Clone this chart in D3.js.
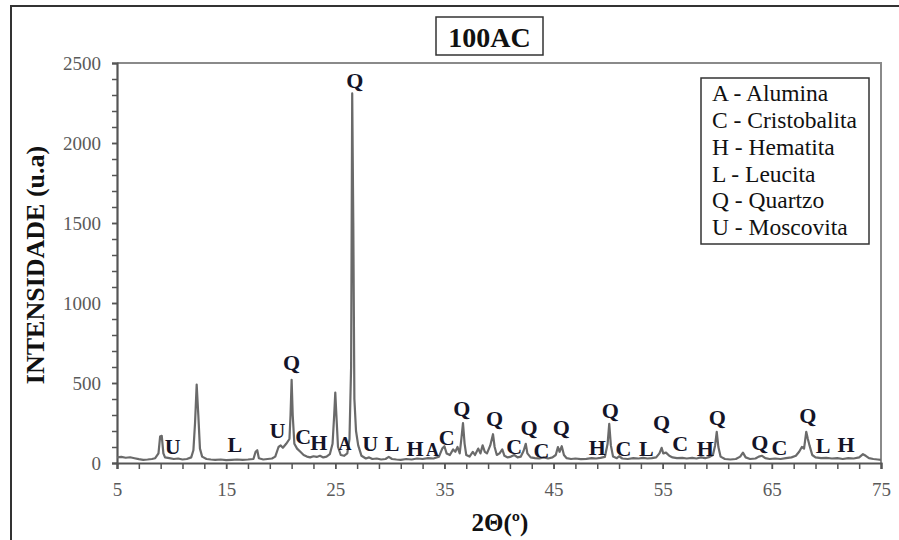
<!DOCTYPE html>
<html><head><meta charset="utf-8">
<script src="https://cdn.jsdelivr.net/npm/d3@7"></script>
<style>body{margin:0;background:#fff}svg{display:block}</style>
</head><body><div id="chart"></div>
<script>
// ---- data ----
const twoTheta = [5.0,5.4,5.8,6.2,6.6,7.0,7.4,7.8,8.2,8.5,8.8,8.95,9.1,9.25,9.4,9.8,10.2,10.6,11.0,11.4,11.8,12.0,12.15,12.3,12.45,12.6,12.8,13.2,13.6,14.0,14.5,15.0,15.5,16.0,16.5,17.0,17.5,17.7,17.85,18.0,18.4,18.8,19.2,19.5,19.8,20.0,20.2,20.5,20.8,20.9,21.0,21.1,21.25,21.5,21.8,22.1,22.4,22.7,23.0,23.3,23.6,23.9,24.2,24.5,24.75,24.9,25.0,25.1,25.25,25.5,25.8,26.1,26.3,26.45,26.55,26.65,26.75,26.9,27.1,27.4,27.8,28.1,28.4,28.8,29.2,29.6,29.9,30.2,30.6,31.0,31.5,32.0,32.5,33.0,33.5,34.0,34.5,34.8,35.0,35.2,35.5,35.8,36.0,36.2,36.4,36.55,36.7,36.85,37.0,37.3,37.6,37.8,38.1,38.3,38.5,38.7,38.9,39.2,39.45,39.6,39.8,40.05,40.3,40.5,40.8,41.1,41.4,41.7,42.0,42.25,42.45,42.6,42.9,43.3,43.7,44.1,44.5,44.9,45.2,45.4,45.55,45.75,45.95,46.2,46.6,47.0,47.5,48.0,48.5,48.9,49.3,49.7,49.95,50.1,50.25,50.45,50.8,51.0,51.3,51.8,52.3,52.8,53.2,53.6,54.0,54.4,54.7,54.9,55.05,55.3,55.6,55.9,56.3,56.8,57.2,57.7,58.1,58.5,58.9,59.3,59.6,59.8,59.95,60.1,60.3,60.7,61.2,61.7,62.1,62.35,62.6,63.0,63.5,63.8,64.1,64.4,64.8,65.3,65.8,66.3,66.8,67.2,67.5,67.75,67.95,68.15,68.3,68.45,68.7,69.0,69.5,70.0,70.5,71.0,71.5,72.0,72.5,73.0,73.35,73.6,73.9,74.3,74.7,75.0];
const intensity = [35,38,33,36,30,24,20,22,25,30,60,165,170,60,35,30,25,28,22,25,35,80,250,490,300,90,40,25,22,20,22,18,20,22,20,22,25,70,80,30,22,25,28,40,100,110,95,120,150,300,520,300,120,90,70,50,40,35,42,38,45,35,40,55,120,300,440,300,100,50,45,60,150,600,2310,1500,400,200,110,45,28,35,25,28,22,25,38,25,22,20,25,22,28,25,30,28,40,90,105,60,50,85,70,100,60,150,250,120,50,40,70,50,90,60,110,70,60,110,180,100,50,60,85,45,35,40,50,35,40,75,120,60,35,30,28,35,28,35,50,100,70,105,50,30,25,28,24,26,30,28,32,38,120,245,110,40,30,42,28,25,30,28,32,28,30,35,60,95,60,65,45,35,30,32,28,32,28,35,30,38,50,110,195,100,40,25,22,25,40,65,35,25,28,40,45,30,25,28,25,30,35,45,70,100,90,195,150,110,50,35,30,32,28,30,25,30,28,35,55,45,30,25,22,20];
const xTicks = [5,15,25,35,45,55,65,75];
const yTicks = [0,500,1000,1500,2000,2500];
const peakText = ["Q","U","L","U","Q","C","H","A","U","L","H","A","C","Q","Q","C","Q","C","Q","H","Q","C","L","Q","C","H","Q","Q","C","Q","L","H"];
const peakX    = [26.8,10.1,15.8,19.7,21.0,22.05,23.5,25.9,28.2,30.2,32.3,33.9,35.2,36.6,39.6,41.4,42.75,43.9,45.7,49.0,50.2,51.4,53.5,54.9,56.6,58.9,60.0,63.9,65.7,68.3,69.7,71.8];
const peakY    = [2394,106,119,206,631,169,131,118,125,125,94,81,162,344,281,106,225,81,225,100,331,94,94,256,125,94,288,131,100,300,112,119];
const legendItems = ["A - Alumina","C - Cristobalita","H - Hematita","L - Leucita","Q - Quartzo","U - Moscovita"];
const chartTitle = "100AC";
const xTitle = "2\u0398(\u00BA)";
const yTitle = "INTENSIDADE (u.a)";

// ---- drawing ----
const W = 899, H = 540;
const m = {left:117, top:63, right:881, bottom:463};
const serif = "'Liberation Serif','Times New Roman',serif";
const svg = d3.select("#chart").append("svg").attr("width",W).attr("height",H);

// outer frame
svg.append("rect").attr("x",11).attr("y",6).attr("width",1000).attr("height",1000)
  .attr("fill","none").attr("stroke","#333").attr("stroke-width",2);

const x = d3.scaleLinear().domain([5,75]).range([m.left,m.right]);
const y = d3.scaleLinear().domain([0,2500]).range([m.bottom,m.top]);

// plot frame (top/right)
svg.append("path").attr("d",`M${m.left},${m.top}H${m.right}V${m.bottom}`)
  .attr("fill","none").attr("stroke","#8a8a8a").attr("stroke-width",2);

// minor ticks
const xMinor = d3.range(5,75.01,2);
const yMinor = d3.range(0,2500.1,100);
const xAxisMinor = svg.append("g").attr("transform",`translate(0,${m.bottom})`)
  .call(d3.axisBottom(x).tickValues(xMinor).tickSize(6).tickFormat(""));
const yAxisMinor = svg.append("g").attr("transform",`translate(${m.left},0)`)
  .call(d3.axisLeft(y).tickValues(yMinor).tickSize(5).tickFormat(""));
[xAxisMinor,yAxisMinor].forEach(g=>{
  g.select(".domain").attr("stroke","#555").attr("stroke-width",2.2);
  g.selectAll(".tick line").attr("stroke","#555").attr("stroke-width",1.5);
});

// major labels
const xAxis = svg.append("g").attr("transform",`translate(0,${m.bottom})`)
  .call(d3.axisBottom(x).tickValues(xTicks).tickSize(6).tickPadding(14).tickFormat(d3.format("d")));
const yAxis = svg.append("g").attr("transform",`translate(${m.left},0)`)
  .call(d3.axisLeft(y).tickValues(yTicks).tickSize(5).tickPadding(11).tickFormat(d3.format("d")));
[xAxis,yAxis].forEach(g=>{
  g.select(".domain").remove();
  g.selectAll(".tick line").attr("stroke","#555").attr("stroke-width",1.5);
  g.selectAll(".tick text").attr("fill","#5a5a5a").style("font-family",serif).style("font-size","19px");
});

// spectrum
const pts = twoTheta.map((t,i)=>[t,intensity[i]]);
svg.append("path").datum(pts)
  .attr("d",d3.line().x(d=>x(d[0])).y(d=>y(d[1])))
  .attr("fill","none").attr("stroke","#6a6a6a").attr("stroke-width",2.2).attr("stroke-linejoin","round");

// peak labels
svg.append("g").selectAll("text").data(peakText).join("text")
  .attr("x",(d,i)=>x(peakX[i])).attr("y",(d,i)=>y(peakY[i]))
  .attr("dy","0.35em").attr("text-anchor","middle")
  .style("font-family",serif).style("font-weight","bold")
  .style("font-size",d=>d==="A"?"18px":"22px").attr("fill","#141428")
  .text(d=>d);

// title box
svg.append("rect").attr("x",436).attr("y",17).attr("width",107).attr("height",38)
  .attr("fill","#fff").attr("stroke","#333").attr("stroke-width",1.5);
svg.append("text").attr("x",489.5).attr("y",47).attr("text-anchor","middle")
  .style("font-family",serif).style("font-weight","bold").style("font-size","28px")
  .attr("fill","#111").text(chartTitle);

// legend
svg.append("rect").attr("x",701).attr("y",78).attr("width",168).attr("height",166)
  .attr("fill","#fff").attr("stroke","#333").attr("stroke-width",1.5);
svg.append("g").selectAll("text").data(legendItems).join("text")
  .attr("x",712).attr("y",(d,i)=>93+i*26.8).attr("dy","0.35em")
  .style("font-family",serif).style("font-size","23.5px").attr("fill","#111")
  .text(d=>d);

// axis titles
svg.append("text").attr("x",500).attr("y",522).attr("dy","0.35em").attr("text-anchor","middle")
  .style("font-family",serif).style("font-weight","bold").style("font-size","25px")
  .attr("fill","#111").text(xTitle);
svg.append("text").attr("transform","translate(35,265) rotate(-90)").attr("dy","0.35em")
  .attr("text-anchor","middle")
  .style("font-family",serif).style("font-weight","bold").style("font-size","26px")
  .attr("fill","#111").text(yTitle);
</script></body></html>
